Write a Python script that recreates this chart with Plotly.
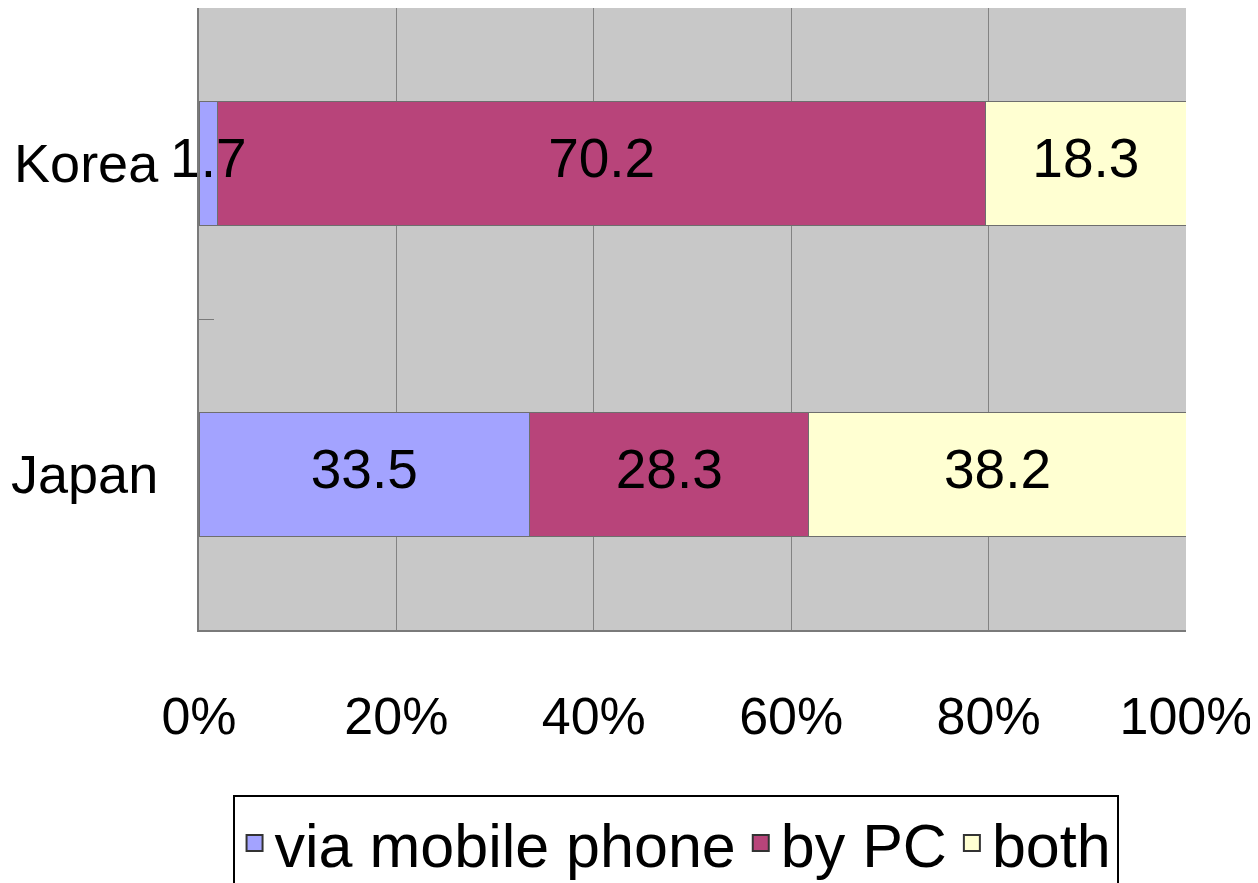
import plotly.graph_objects as go

# ------------------------------------------------------------
# Datos: acceso por tipo de dispositivo (%)
# ------------------------------------------------------------
countries = ["Korea", "Japan"]
series_names = ["via mobile phone", "by PC", "both"]
mobile = [1.7, 33.5]
pc = [70.2, 28.3]
both = [18.3, 38.2]
x_ticks = [0, 20, 40, 60, 80, 100]
x_tick_labels = ["0%", "20%", "40%", "60%", "80%", "100%"]

colors = ["#a3a3ff", "#b8447a", "#ffffd2"]
FONT = "Arial, Liberation Sans, sans-serif"
series = [mobile, pc, both]

fig = go.Figure()
for name, vals, col in zip(series_names, series, colors):
    fig.add_trace(go.Bar(
        y=countries,
        x=vals,
        name=name,
        orientation="h",
        marker=dict(color=col, line=dict(color="#6e6e6e", width=1)),
        showlegend=False,
        hoverinfo="skip",
    ))
    # entrada de leyenda con cuadrado grande
    fig.add_trace(go.Scatter(
        x=[None], y=[None],
        mode="markers",
        name=name,
        marker=dict(symbol="square", size=22, color=col,
                    line=dict(color="#333333", width=2)),
        showlegend=True,
    ))

# etiquetas de valor encima de todas las barras (centro de cada segmento, 100% apilado)
lab_x, lab_y, lab_t = [], [], []
for i, c in enumerate(countries):
    total = sum(s[i] for s in series)
    acc = 0.0
    for s in series:
        pct = s[i] / total * 100
        lab_x.append(acc + pct / 2)
        lab_y.append(c)
        lab_t.append(f"{s[i]:.1f}")
        acc += pct

fig.add_trace(go.Scatter(
    x=lab_x, y=lab_y, text=lab_t,
    mode="text",
    textposition="middle center",
    textfont=dict(size=55, color="black", family=FONT),
    showlegend=False,
    hoverinfo="skip",
    cliponaxis=False,
))

fig.update_layout(
    barmode="stack",
    barnorm="percent",
    bargap=0.6,
    width=1250,
    height=875,
    plot_bgcolor="#c8c8c8",
    paper_bgcolor="white",
    font=dict(family=FONT, size=56, color="black"),
    margin=dict(l=191, r=72, t=0, b=253, autoexpand=False),
    legend=dict(
        orientation="h",
        x=0.034, xanchor="left",
        y=-0.265, yanchor="top",
        bordercolor="black",
        borderwidth=2,
        font=dict(size=61, family=FONT),
        itemsizing="trace",
        itemwidth=30,
        traceorder="normal",
    ),
)

fig.update_xaxes(
    range=[0, 100],
    tickvals=x_ticks,
    ticktext=x_tick_labels,
    tickfont=dict(size=52),
    showgrid=True,
    gridcolor="#838383",
    gridwidth=1,
    ticks="outside",
    ticklen=40,
    tickcolor="rgba(0,0,0,0)",
    showline=True,
    linecolor="#7a7a7a",
    linewidth=2,
    zeroline=False,
    automargin=False,
)

fig.update_yaxes(
    autorange="reversed",
    tickson="boundaries",
    ticks="inside",
    ticklen=15,
    tickcolor="#7a7a7a",
    ticklabelstandoff=28,
    tickfont=dict(size=54),
    showline=True,
    linecolor="#7a7a7a",
    linewidth=2,
    showgrid=False,
    automargin=False,
)

fig.write_html("out.html")
